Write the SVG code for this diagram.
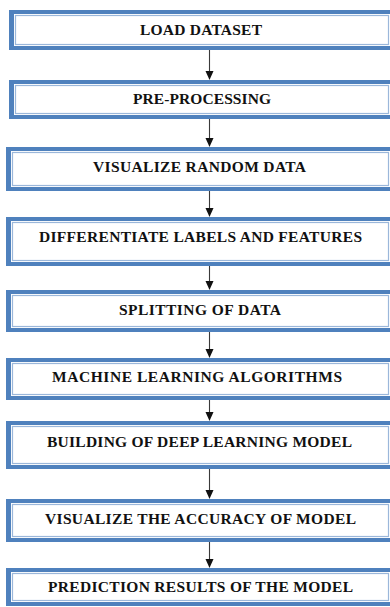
<svg xmlns="http://www.w3.org/2000/svg" width="390" height="607" viewBox="0 0 390 607">
  <style>
    .frame { fill: #4F81BD; }
    .gap { fill: #FFFFFF; }
    .inner { fill: #FFFFFF; stroke: #9BB7DA; stroke-width: 1.2; }
    .label { font-family: 'Liberation Serif', 'DejaVu Serif', 'Times New Roman', serif; font-weight: 700; font-size: 15.5px; fill: #111111; text-anchor: middle; }
    .link { stroke: #3A3A3A; stroke-width: 1.1; fill: none; }
    .head { fill: #111111; }
  </style>

  <rect width="390" height="607" fill="#FFFFFF"/>

  <!-- connectors: vertical line plus solid arrowhead into the next step -->
  <g id="connectors">
    <line class="link" x1="209.5" y1="50" x2="209.5" y2="72"/>
    <path class="head" d="M205.5,71 L213.5,71 L209.5,80 Z"/>
    <line class="link" x1="209.5" y1="119" x2="209.5" y2="139"/>
    <path class="head" d="M205.5,138 L213.5,138 L209.5,147 Z"/>
    <line class="link" x1="209.5" y1="191" x2="209.5" y2="209"/>
    <path class="head" d="M205.5,208 L213.5,208 L209.5,217 Z"/>
    <line class="link" x1="209.5" y1="266" x2="209.5" y2="282"/>
    <path class="head" d="M205.5,281 L213.5,281 L209.5,290 Z"/>
    <line class="link" x1="209.5" y1="332" x2="209.5" y2="350"/>
    <path class="head" d="M205.5,349 L213.5,349 L209.5,358 Z"/>
    <line class="link" x1="209.5" y1="400" x2="209.5" y2="413"/>
    <path class="head" d="M205.5,412 L213.5,412 L209.5,421 Z"/>
    <line class="link" x1="209.5" y1="469" x2="209.5" y2="491"/>
    <path class="head" d="M205.5,490 L213.5,490 L209.5,499 Z"/>
    <line class="link" x1="209.5" y1="542" x2="209.5" y2="560"/>
    <path class="head" d="M205.5,559 L213.5,559 L209.5,568 Z"/>
  </g>

  <!-- 1 -->
  <g id="load-dataset">
    <rect class="frame" x="9" y="10" width="400" height="40"/>
    <rect class="gap" x="14" y="14" width="380" height="32"/>
    <rect class="inner" x="15.5" y="15.5" width="373" height="29"/>
    <text class="label" font-family="Liberation Serif" x="201" y="35" textLength="122" lengthAdjust="spacing">LOAD DATASET</text>
  </g>

  <!-- 2 -->
  <g id="pre-processing">
    <rect class="frame" x="9" y="80" width="400" height="39"/>
    <rect class="gap" x="14" y="84" width="380" height="31"/>
    <rect class="inner" x="15.5" y="85.5" width="373" height="28"/>
    <text class="label" font-family="Liberation Serif" x="202" y="104" textLength="138" lengthAdjust="spacing">PRE-PROCESSING</text>
  </g>

  <!-- 3 -->
  <g id="visualize-random-data">
    <rect class="frame" x="6" y="147" width="400" height="44"/>
    <rect class="gap" x="11" y="151" width="383" height="36"/>
    <rect class="inner" x="12.5" y="152.5" width="376" height="33"/>
    <text class="label" font-family="Liberation Serif" x="199.5" y="172" textLength="213" lengthAdjust="spacing">VISUALIZE RANDOM DATA</text>
  </g>

  <!-- 4 -->
  <g id="differentiate-labels-features">
    <rect class="frame" x="6" y="217" width="400" height="49"/>
    <rect class="gap" x="11" y="221" width="383" height="41"/>
    <rect class="inner" x="12.5" y="222.5" width="376" height="38"/>
    <text class="label" font-family="Liberation Serif" x="200.5" y="242" textLength="323" lengthAdjust="spacing">DIFFERENTIATE LABELS AND FEATURES</text>
  </g>

  <!-- 5 -->
  <g id="splitting-of-data">
    <rect class="frame" x="6" y="290" width="400" height="42"/>
    <rect class="gap" x="11" y="294" width="383" height="34"/>
    <rect class="inner" x="12.5" y="295.5" width="376" height="31"/>
    <text class="label" font-family="Liberation Serif" x="200" y="315" textLength="162" lengthAdjust="spacing">SPLITTING OF DATA</text>
  </g>

  <!-- 6 -->
  <g id="machine-learning-algorithms">
    <rect class="frame" x="6" y="358" width="400" height="42"/>
    <rect class="gap" x="11" y="362" width="383" height="34"/>
    <rect class="inner" x="12.5" y="363.5" width="376" height="31"/>
    <text class="label" font-family="Liberation Serif" x="197" y="382" textLength="290" lengthAdjust="spacing">MACHINE LEARNING ALGORITHMS</text>
  </g>

  <!-- 7 -->
  <g id="deep-learning-model">
    <rect class="frame" x="6" y="421" width="400" height="48"/>
    <rect class="gap" x="11" y="425" width="383" height="40"/>
    <rect class="inner" x="12.5" y="426.5" width="376" height="37"/>
    <text class="label" font-family="Liberation Serif" x="199.5" y="447" textLength="305" lengthAdjust="spacing">BUILDING OF DEEP LEARNING MODEL</text>
  </g>

  <!-- 8 -->
  <g id="visualize-accuracy">
    <rect class="frame" x="6" y="499" width="400" height="43"/>
    <rect class="gap" x="11" y="503" width="383" height="35"/>
    <rect class="inner" x="12.5" y="504.5" width="376" height="32"/>
    <text class="label" font-family="Liberation Serif" x="200.5" y="523.5" textLength="311" lengthAdjust="spacing">VISUALIZE THE ACCURACY OF MODEL</text>
  </g>

  <!-- 9 -->
  <g id="prediction-results">
    <rect class="frame" x="6" y="568" width="400" height="38"/>
    <rect class="gap" x="11" y="572" width="383" height="30"/>
    <rect class="inner" x="12.5" y="573.5" width="376" height="27"/>
    <text class="label" font-family="Liberation Serif" x="200.5" y="592" textLength="305" lengthAdjust="spacing">PREDICTION RESULTS OF THE MODEL</text>
  </g>
</svg>
